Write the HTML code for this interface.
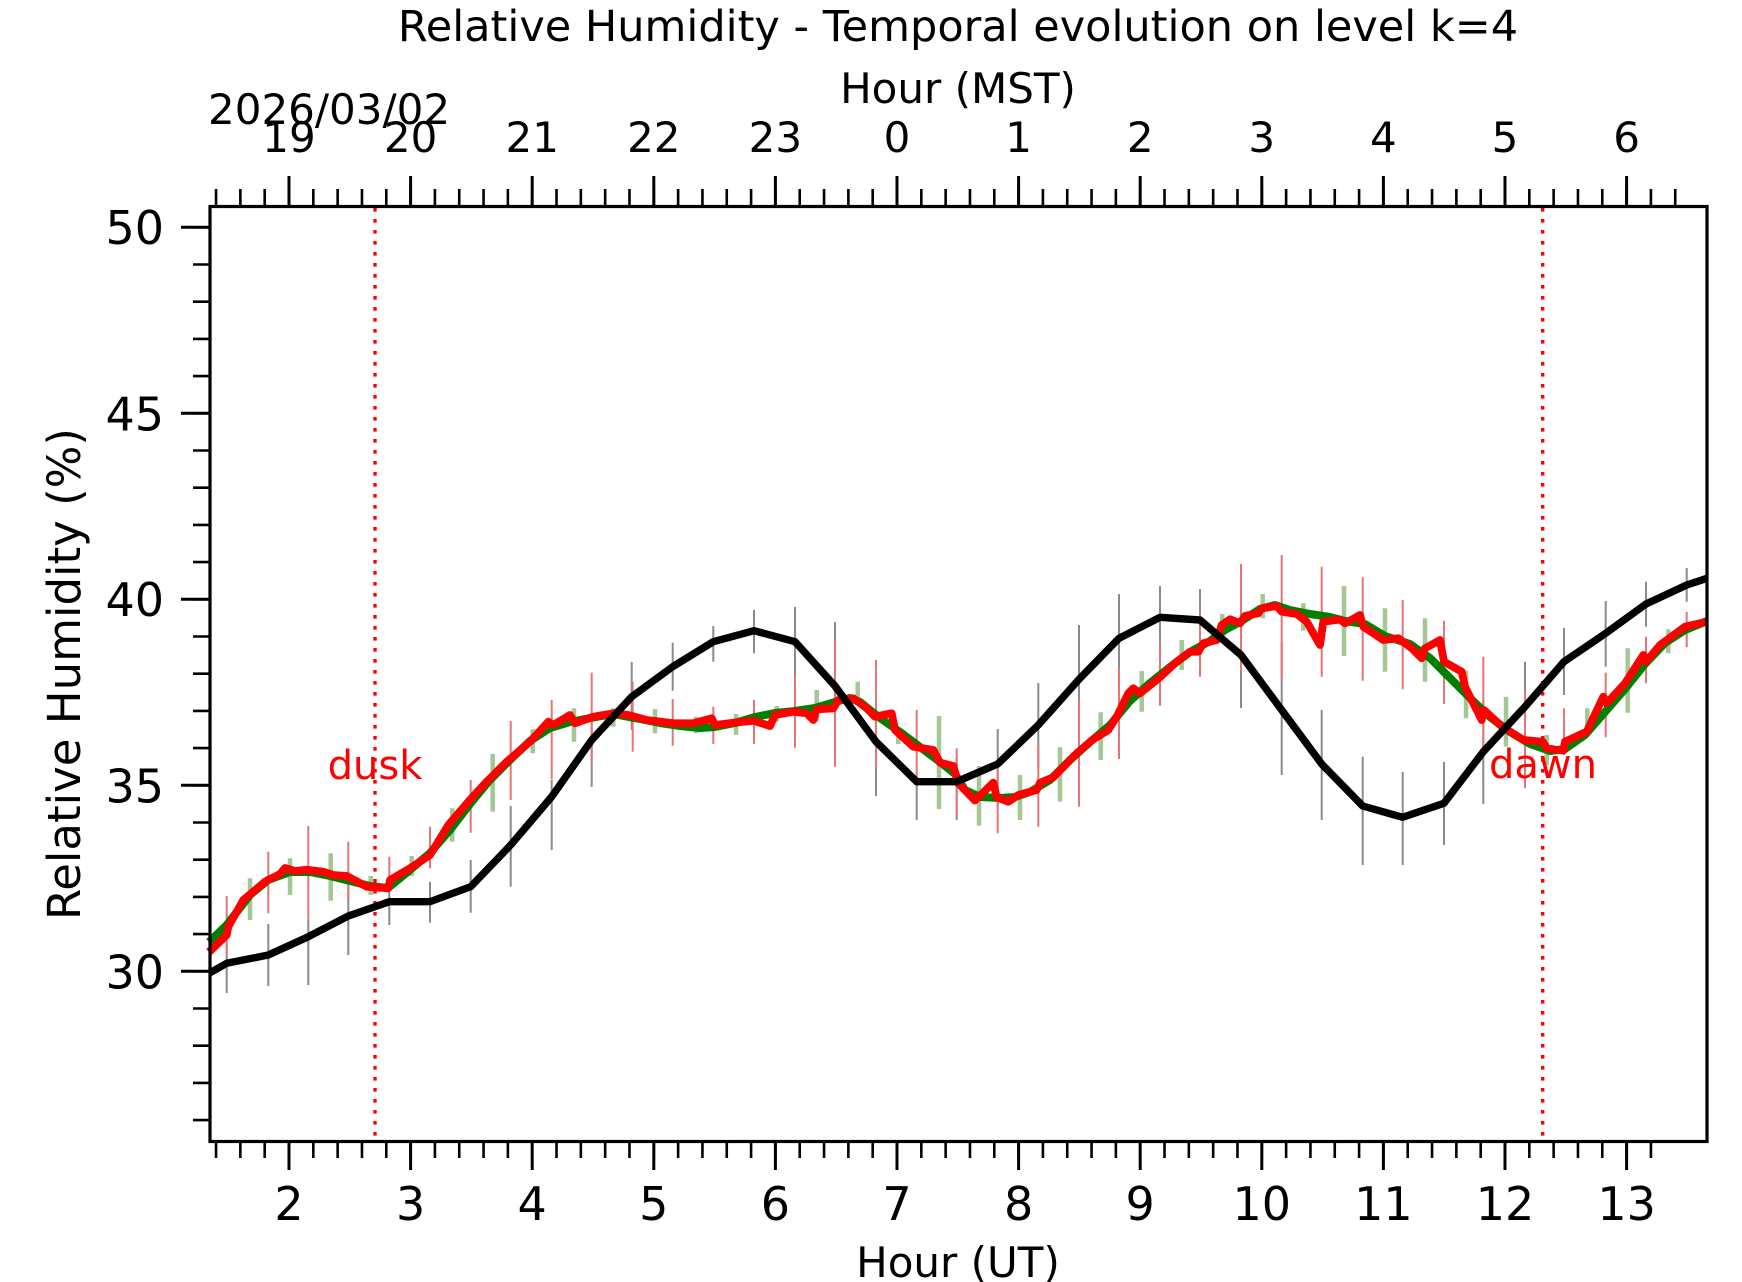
<!DOCTYPE html>
<html>
<head>
<meta charset="utf-8">
<style>
  html, body { margin: 0; padding: 0; background: #ffffff; }
  svg { display: block; }
  text { font-family: "DejaVu Sans", "Liberation Sans", sans-serif; }
</style>
</head>
<body>
<svg width="1742" height="1282" viewBox="0 0 1742 1282" xmlns="http://www.w3.org/2000/svg">
  <rect x="0" y="0" width="1742" height="1282" fill="#ffffff"/>

  <!-- Title and axis labels -->
  <text x="958" y="41" font-size="43" text-anchor="middle" fill="#000">Relative Humidity - Temporal evolution on level k=4</text>
  <text x="958" y="103" font-size="42" text-anchor="middle" fill="#000">Hour (MST)</text>
  <text x="208" y="124" font-size="42" text-anchor="start" fill="#000">2026/03/02</text>
  <text x="958" y="1277" font-size="42" text-anchor="middle" fill="#000">Hour (UT)</text>
  <text transform="translate(80,674) rotate(-90)" font-size="45" text-anchor="middle" fill="#000">Relative Humidity (%)</text>

  <!-- Top tick labels (MST) -->
  <g font-size="42" text-anchor="middle" fill="#000">
    <text x="289" y="152">19</text>
    <text x="410.6" y="152">20</text>
    <text x="532.2" y="152">21</text>
    <text x="653.8" y="152">22</text>
    <text x="775.4" y="152">23</text>
    <text x="897" y="152">0</text>
    <text x="1018.6" y="152">1</text>
    <text x="1140.2" y="152">2</text>
    <text x="1261.8" y="152">3</text>
    <text x="1383.4" y="152">4</text>
    <text x="1505" y="152">5</text>
    <text x="1626.6" y="152">6</text>
  </g>

  <!-- Bottom tick labels (UT) -->
  <g font-size="46" text-anchor="middle" fill="#000">
    <text x="289" y="1220">2</text>
    <text x="410.6" y="1220">3</text>
    <text x="532.2" y="1220">4</text>
    <text x="653.8" y="1220">5</text>
    <text x="775.4" y="1220">6</text>
    <text x="897" y="1220">7</text>
    <text x="1018.6" y="1220">8</text>
    <text x="1140.2" y="1220">9</text>
    <text x="1261.8" y="1220">10</text>
    <text x="1383.4" y="1220">11</text>
    <text x="1505" y="1220">12</text>
    <text x="1626.6" y="1220">13</text>
  </g>

  <!-- Left tick labels -->
  <g font-size="46" text-anchor="end" fill="#000">
    <text x="164" y="244">50</text>
    <text x="164" y="430.5">45</text>
    <text x="164" y="616">40</text>
    <text x="164" y="802.5">35</text>
    <text x="164" y="988.5">30</text>
  </g>

  <!-- Ticks -->
  <g stroke="#000" stroke-width="2.6" fill="none">
    <path d="M216.04 1142v16m24.32-16v16m24.32-16v16m24.32-16v16m24.32-16v16m24.32-16v16m24.32-16v16m24.32-16v16m24.32-16v16m24.32-16v16m24.32-16v16m24.32-16v16m24.32-16v16m24.32-16v16m24.32-16v16m24.32-16v16m24.32-16v16m24.32-16v16m24.32-16v16m24.32-16v16m24.32-16v16m24.32-16v16m24.32-16v16m24.32-16v16m24.32-16v16m24.32-16v16m24.32-16v16m24.32-16v16m24.32-16v16m24.32-16v16m24.32-16v16m24.32-16v16m24.32-16v16m24.32-16v16m24.32-16v16m24.32-16v16m24.32-16v16m24.32-16v16m24.32-16v16m24.32-16v16m24.32-16v16m24.32-16v16m24.32-16v16m24.32-16v16m24.32-16v16m24.32-16v16m24.32-16v16m24.32-16v16m24.32-16v16m24.32-16v16m24.32-16v16m24.32-16v16m24.32-16v16m24.32-16v16m24.32-16v16m24.32-16v16m24.32-16v16m24.32-16v16m24.32-16v16m24.32-16v16"/>
    <path d="M216.04 206v-17m24.32 17v-17m24.32 17v-17m24.32 17v-17m24.32 17v-17m24.32 17v-17m24.32 17v-17m24.32 17v-17m24.32 17v-17m24.32 17v-17m24.32 17v-17m24.32 17v-17m24.32 17v-17m24.32 17v-17m24.32 17v-17m24.32 17v-17m24.32 17v-17m24.32 17v-17m24.32 17v-17m24.32 17v-17m24.32 17v-17m24.32 17v-17m24.32 17v-17m24.32 17v-17m24.32 17v-17m24.32 17v-17m24.32 17v-17m24.32 17v-17m24.32 17v-17m24.32 17v-17m24.32 17v-17m24.32 17v-17m24.32 17v-17m24.32 17v-17m24.32 17v-17m24.32 17v-17m24.32 17v-17m24.32 17v-17m24.32 17v-17m24.32 17v-17m24.32 17v-17m24.32 17v-17m24.32 17v-17m24.32 17v-17m24.32 17v-17m24.32 17v-17m24.32 17v-17m24.32 17v-17m24.32 17v-17m24.32 17v-17m24.32 17v-17m24.32 17v-17m24.32 17v-17m24.32 17v-17m24.32 17v-17m24.32 17v-17m24.32 17v-17m24.32 17v-17m24.32 17v-17m24.32 17v-17m24.32 17v-17"/>
    <path d="M193 227.3h17m-17 37.2h17m-17 37.2h17m-17 37.2h17m-17 37.2h17m-17 37.2h17m-17 37.2h17m-17 37.2h17m-17 37.2h17m-17 37.2h17m-17 37.2h17m-17 37.2h17m-17 37.2h17m-17 37.2h17m-17 37.2h17m-17 37.2h17m-17 37.2h17m-17 37.2h17m-17 37.2h17m-17 37.2h17m-17 37.2h17m-17 37.2h17m-17 37.2h17m-17 37.2h17m-17 37.2h17"/>
  </g>
  <g stroke="#000" stroke-width="3" fill="none">
    <path d="M289 1142v28M410.6 1142v28M532.2 1142v28M653.8 1142v28M775.4 1142v28M897 1142v28M1018.6 1142v28M1140.2 1142v28M1261.8 1142v28M1383.4 1142v28M1505 1142v28M1626.6 1142v28"/>
    <path d="M289 206v-30M410.6 206v-30M532.2 206v-30M653.8 206v-30M775.4 206v-30M897 206v-30M1018.6 206v-30M1140.2 206v-30M1261.8 206v-30M1383.4 206v-30M1505 206v-30M1626.6 206v-30"/>
    <path d="M181 227.3h29M181 413.3h29M181 599.3h29M181 785.3h29M181 971.3h29"/>
  </g>

  <!-- Error bars: gray (black series) -->
  <g stroke="#878b93" stroke-width="2" fill="none">
    <path d="M226.7 945V993M268.3 924V986M308.3 920V985M348.3 877V955M389.3 888V925M430 881.7V922.7M470.7 860V912.7M510.7 806V886.7M551.7 780V850M591.7 720V787M631.7 662V730M672.7 642.7V690.7M713.3 626V661.7M754 610V653.3M795 607V690M835 622V728M876 711V796M916.7 776.7V820M956.7 758V820M997.7 729V808M1038.3 683V768M1079 625V733M1119 594V683M1160 586V645M1200 589V652M1241 600V708M1281.7 641.7V775M1321.7 710V820M1362.7 756.7V865M1402.7 772V865M1444 762V845M1483.3 700V804M1525 661.7V750M1564 628V695M1605.7 601V666.7M1646 581.7V626.7M1686.7 568V601.7"/>
  </g>

  <!-- Error bars: light green -->
  <g stroke="#a3c893" stroke-width="4.5" fill="none">
    <path d="M250 878.3V920M290 858.3V895M330.7 853.3V900.7M370.7 876V895M411.7 856V876M452.3 808.3V841.7M492.7 754V811.7M532.7 729.3V753.3M574 708.3V741.7M613.3 708.3V726.7M655 709V733.3M696 716.7V733.3M736 714V735M776.7 706V721.7M816.7 690V721.7M857.7 681.7V700M898.3 730V744M939 716V809M979 766V825.7M1020 775V820M1060 747.3V801.7M1100.7 712.3V760M1141.7 671V711.7M1181.7 640V670M1222.3 614V638.3M1262.7 594V618.3M1303.3 603.3V630.7M1344 586V656M1385 608.3V671.7M1425 618.3V681.7M1466 670.7V718.3M1506 696.7V746.7M1546.7 735V765M1587.3 708.3V730M1627.7 648.3V712.7M1668.3 629.3V653.3"/>
  </g>

  <!-- Error bars: light red -->
  <g stroke="#e67474" stroke-width="2" fill="none">
    <path d="M226.7 896V955M268.3 851.7V913.3M308.3 826V920.7M348.3 841.7V900M389.3 856.7V886.7M430 826.7V868.3M470.7 780V832.7M510.7 721V800M551.7 700V779.3M591.7 672.7V761.7M632.7 681.7V751.7M672.7 699V745.7M713.3 706.7V744M754 700V744M795 675V747.7M835 639.3V766.7M876 660V769.3M916.7 710V776.7M956.7 748.3V815M997.7 770V833.3M1038.3 742.7V826.7M1079 699.3V806.7M1119 667.3V759M1160 641.7V705.7M1200 611.7V676.7M1241 564V671M1281.7 555V678.3M1321.7 566.7V676.7M1362.7 577.3V680.7M1402.7 600V689.3M1444 620.7V704M1483.3 656.7V751.7M1525 691.7V788.3M1564 708.3V755M1605.7 672.7V737.3M1646 636.7V683.3M1686.7 611.7V647.3"/>
  </g>

  <!-- dusk / dawn dotted lines -->
  <g stroke="#ff0000" stroke-width="3.4" stroke-dasharray="3.6 7.4" fill="none">
    <path d="M375 208V1140"/>
    <path d="M1542.7 208V1140"/>
  </g>

  <!-- Green line -->
  <polyline fill="none" stroke="#008000" stroke-width="8" stroke-linejoin="round" stroke-linecap="butt"
    points="209,942 226.7,925 250,895 268,880 290,872 310,872 330,876 350,881 370,886 388,888 410,870 430,853 450,830 470,804 490,780 510,760 530,741 550,728 570,722 590,718 613,714 640,719 660,723 680,726 700,728 715,727 735,723 755,717 775,713 795,711 815,708 835,702 850,698 860,702 880,718 900,732 920,747 940,762 955,774 965,790 980,797 1000,798 1015,797 1030,792 1050,780 1070,760 1090,742 1110,725 1130,701 1150,683 1170,667 1190,652 1210,641 1225,630 1240,622 1260,609 1275,605 1290,610 1310,614 1330,617 1345,621 1365,624 1385,636 1410,644 1430,658 1450,678 1470,698 1490,717 1510,732 1530,744 1550,751 1565,749 1585,735 1605,712 1625,689 1645,664 1665,643 1685,630 1707,621"/>

  <!-- Red line -->
  <polyline fill="none" stroke="#ff0000" stroke-width="7.8" stroke-linejoin="round" stroke-linecap="butt"
    points="209,952 226.7,935 228.3,926.7 243.3,900 265,881.7 280,874 285,868 295,871 306.7,869.7 323.3,871.7 333.3,875 346.7,876 366.7,886.7 388.3,888.3 390,880 410,868.3 430,855 448.3,825 468.3,801.7 486.7,781.7 506.7,761.7 530,741.7 548.3,721.7 553.3,725 570,715 575,723.3 593.3,716.7 613.3,713.3 628.3,715 646.7,720 673.3,723.3 693.3,723.3 711.7,718.3 715,725 733.3,722.7 753.3,720.7 770,726 775,715 793.3,711.7 806.7,713.3 813.3,720 816.7,709.3 833.3,708.3 838.3,700 853.3,698.3 866.7,708.3 875,716.7 891.7,713.3 895,730 913.3,746.7 933.3,750 940,762.7 953.3,766 958.3,783.3 975,800.5 993.3,782.7 996.7,797.3 1008.3,801.7 1018.3,795 1036.7,790 1040,782.7 1053.3,777.3 1076.7,753.3 1093.3,739.3 1108.3,730 1116.7,716.7 1128.3,693.3 1133.3,688.3 1140,693.3 1160,677.3 1176.7,661.7 1190,651.7 1198.3,651.7 1203.3,643.3 1216.7,640 1221.7,625 1230,619.3 1240,623.3 1245,616 1258.3,613.3 1261.7,608.3 1276.7,606 1281.7,611.7 1296.7,614 1306.7,621.7 1313.3,633.3 1320,645 1323.3,621.7 1340,619.5 1345,623.3 1360,615 1363.3,626.7 1383.3,640 1398.3,638.3 1411.7,648.3 1421.7,658.3 1425,648.3 1440,640 1444,661.7 1461.7,671.7 1465,686.7 1481.7,720 1484,710 1500,725 1523.3,740 1542.7,741.7 1546.7,748.3 1563.3,750.7 1565,741.7 1586.7,731.7 1603.3,696.7 1606.7,703.3 1625,683.3 1643.3,655 1646,661.7 1660,645 1685,626.7 1707,621.7"/>

  <!-- Black line -->
  <polyline fill="none" stroke="#000000" stroke-width="7.4" stroke-linejoin="round" stroke-linecap="butt"
    points="209,973.3 226.7,963.3 268.3,955 308.3,936.7 348.3,916 389.3,901.7 430,901.7 470.7,886.7 510.7,845 551.7,796.7 591.7,740 631.7,696.7 672.7,666.7 713.3,641.7 754,630.7 795,641.7 835,686 876,741.7 916.7,781.7 956.7,781.7 997.7,764 1038.3,725 1079,679.3 1119,638.3 1160,617.3 1200,620 1241,655 1281.7,710 1321.7,764 1362.7,806 1402.7,817.3 1444,803.3 1483.3,751.7 1525,706.7 1564,661.7 1605.7,633.3 1646,604 1686.7,585 1707,578.3"/>

  <!-- dusk / dawn labels -->
  <text x="375" y="779" font-size="40" text-anchor="middle" fill="#ff0000">dusk</text>
  <text x="1543" y="778" font-size="40" text-anchor="middle" fill="#ff0000">dawn</text>

  <!-- Axes frame -->
  <rect x="210" y="206.5" width="1497" height="935" fill="none" stroke="#000" stroke-width="3.2"/>
</svg>
</body>
</html>
